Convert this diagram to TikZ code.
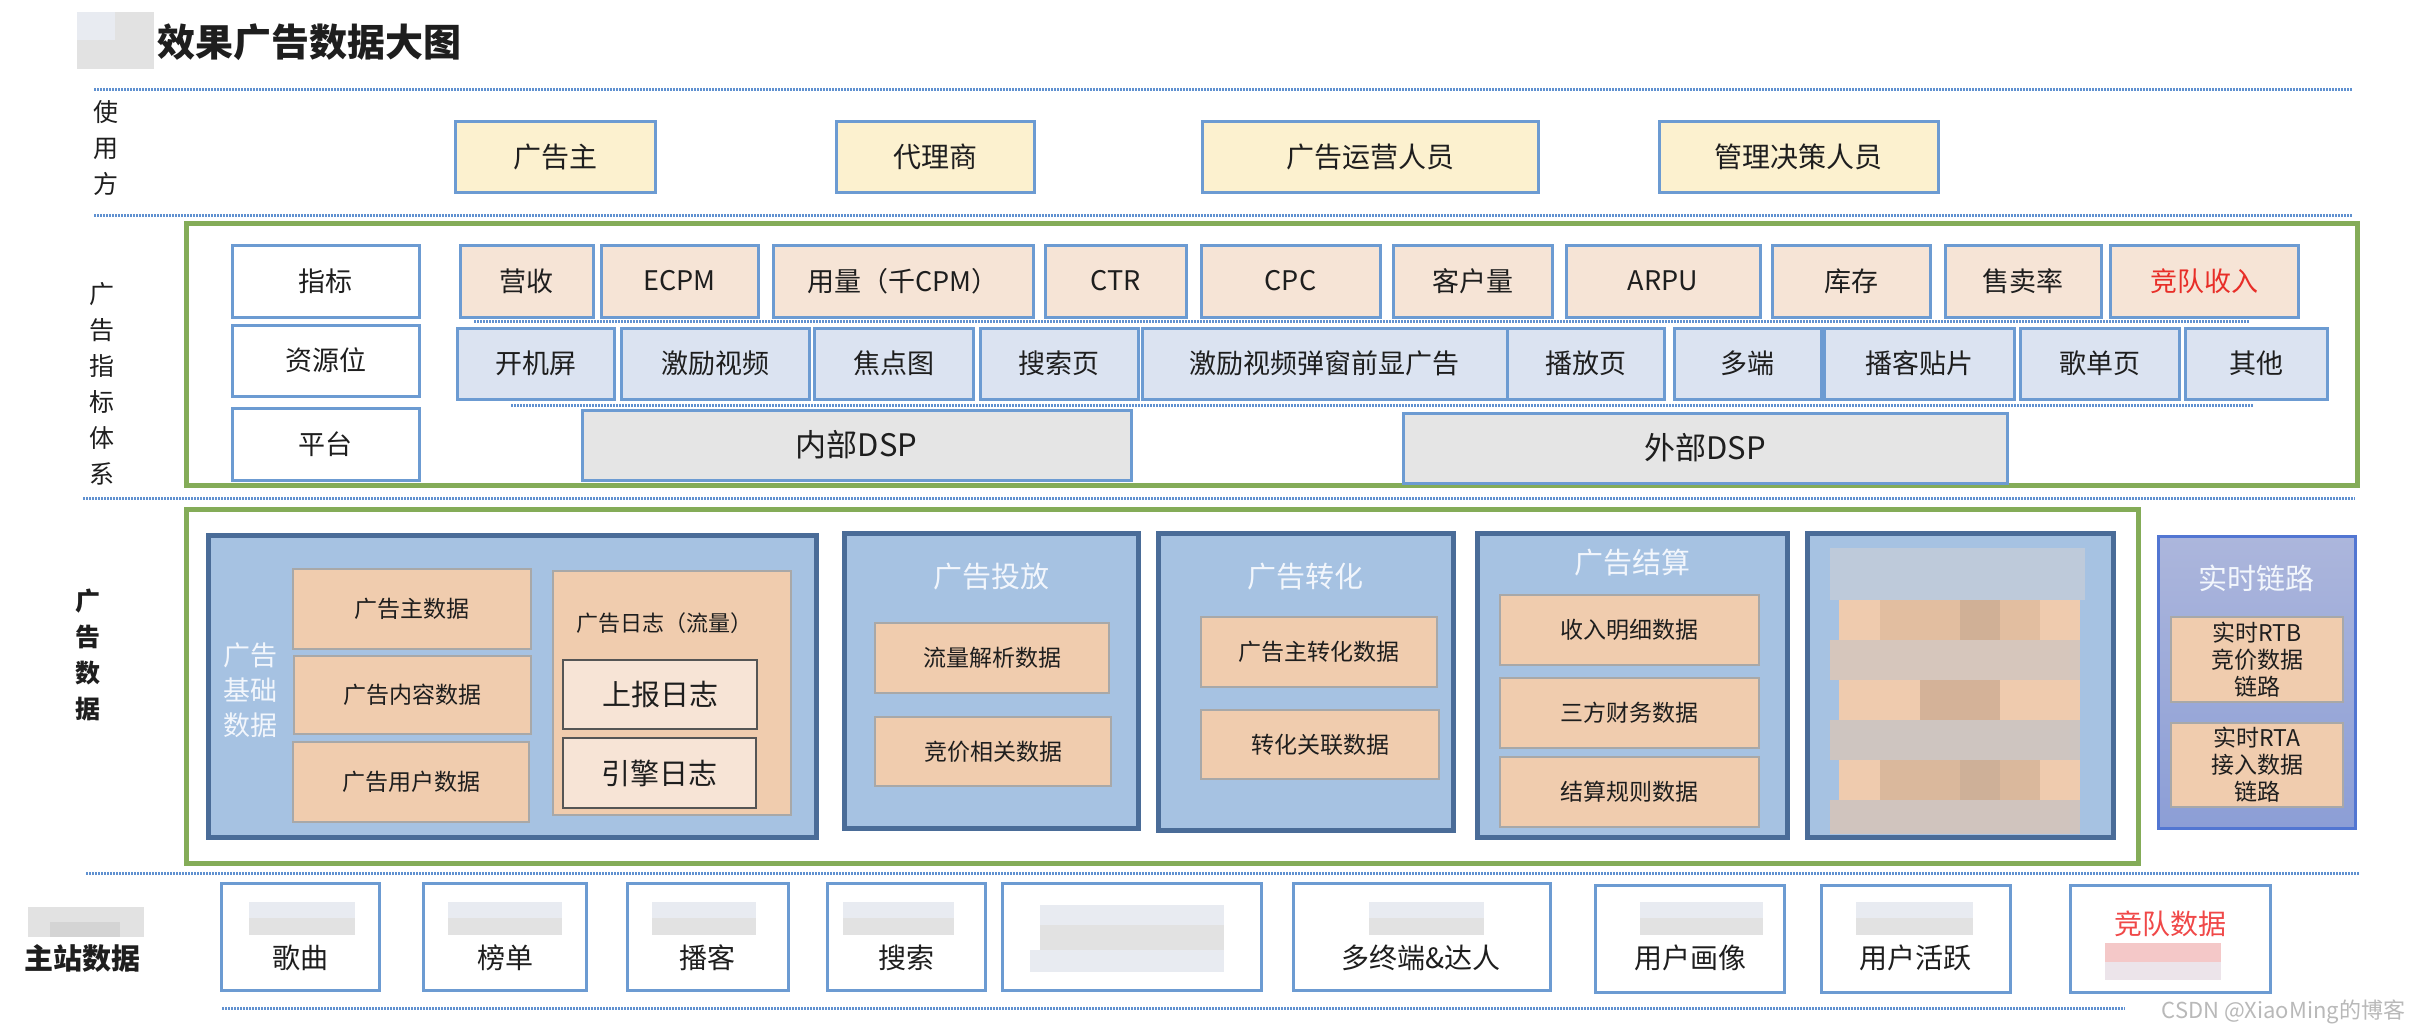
\documentclass[tikz,border=0pt]{standalone}
\usepackage{fontspec}
\setmainfont{Noto Sans CJK SC}
\definecolor{bblue}{RGB}{108,155,210}
\definecolor{grnC}{RGB}{132,172,88}
\definecolor{dotC}{RGB}{96,145,208}
\definecolor{userF}{RGB}{252,241,207}
\definecolor{metF}{RGB}{246,228,214}
\definecolor{resF}{RGB}{219,227,241}
\definecolor{platF}{RGB}{229,229,229}
\definecolor{secF}{RGB}{166,194,226}
\definecolor{secB}{RGB}{74,108,152}
\definecolor{datF}{RGB}{240,204,174}
\definecolor{datB}{RGB}{168,168,168}
\definecolor{logF}{RGB}{247,228,214}
\definecolor{logB}{RGB}{85,85,85}
\definecolor{rtT}{RGB}{172,182,220}
\definecolor{rtBt}{RGB}{140,158,214}
\definecolor{rtB}{RGB}{82,118,210}
\definecolor{redT}{RGB}{232,46,40}
\definecolor{redL}{RGB}{240,72,72}
\definecolor{txt}{RGB}{30,30,30}
\definecolor{wtT}{RGB}{242,246,252}
\definecolor{blurA}{RGB}{226,226,226}
\definecolor{blurB}{RGB}{232,235,241}
\definecolor{blurC}{RGB}{212,212,212}
\newcommand\mkbox[7]{\node[#2, minimum width={#5-#3}, minimum height={#6-#4}] (#1) at ({(#3+#5)/2},{(#4+#6)/2}) {#7};}
\newcommand\fz[2]{\fontsize{#1}{#2}\selectfont}
\begin{document}
\begin{tikzpicture}[x=1pt,y=-1pt,
  every node/.style={inner sep=0pt, outer sep=0pt, text=txt},
  bxs/.style={draw=bblue, line width=3pt, rectangle},
  user/.style={bxs, fill=userF, font=\fz{28}{32}},
  lab/.style={bxs, fill=white, font=\fz{27}{32}},
  met/.style={bxs, fill=metF, font=\fz{27}{32}},
  res/.style={bxs, fill=resF, font=\fz{27}{32}},
  plat/.style={bxs, fill=platF, font=\fz{31}{34}},
  sect/.style={draw=secB, line width=5pt, fill=secF},
  dat/.style={draw=datB, line width=2.5pt, fill=datF, font=\fz{23}{27}},
  logb/.style={draw=logB, line width=2.5pt, fill=logF, font=\fz{29}{32}},
  grn/.style={draw=grnC, line width=5pt},
  sepl/.style={draw=dotC, line width=3pt, dash pattern=on 1.5pt off 1.5pt},
  sectitle/.style={text=wtT, font=\fz{29}{32}},
  side/.style={font=\fz{25}{36}, align=center},
  bot/.style={bxs, fill=white},
  bottxt/.style={font=\fz{28}{32}},
  rt/.style={draw=datB, line width=2.5pt, fill=datF, font=\fz{23}{27}, align=center}
]
\useasboundingbox (0,0) rectangle (2418,1034);
\fill[white] (0,0) rectangle (2418,1034);

% title
\fill[blurA] (77,12) rectangle (154,69);
\fill[blurB] (77,12) rectangle (115,40);
\node[font=\fz{38}{40}\bfseries, anchor=west] (title) at (157,42) {效果广告数据大图};

% dotted separators
\draw[sepl] (94,89) -- (2353,89);
\draw[sepl] (94,215) -- (2353,215);
\draw[sepl] (83,498) -- (2355,498);
\draw[sepl] (86,873) -- (2360,873);
\draw[sepl] (222,1008) -- (2125,1008);

% side labels
\node[side] (lu) at (106,148) {使\\用\\方};
\node[side] (lm) at (102,384) {广\\告\\指\\标\\体\\系};
\node[side, font=\fz{25}{36}\bfseries] (ld) at (88,655) {广\\告\\数\\据};
\fill[blurA] (28,907) rectangle (144,937);
\fill[blurC] (50,922) rectangle (120,937);
\node[font=\fz{29}{32}\bfseries] (lz) at (82,958) {主站数据};

% users
\mkbox{u1}{user}{455}{121}{655}{192}{广告主}
\mkbox{u2}{user}{836}{121}{1034}{192}{代理商}
\mkbox{u3}{user}{1202}{121}{1538}{192}{广告运营人员}
\mkbox{u4}{user}{1659}{121}{1938}{192}{管理决策人员}

% metrics system
\node[grn, minimum width=2171, minimum height=262] (g1) at ({(186+2357)/2},{(223+485)/2}) {};
\mkbox{k1}{lab}{232}{245}{419}{317}{指标}
\mkbox{k2}{lab}{232}{325}{419}{396}{资源位}
\mkbox{k3}{lab}{232}{408}{419}{480}{平台}
\draw[sepl] (474,321) -- (2250,321);
\draw[sepl] (511,405) -- (2254,405);
\mkbox{m1}{met}{460}{245}{593}{317}{营收}
\mkbox{m2}{met}{601}{245}{758}{317}{ECPM}
\mkbox{m3}{met}{773}{245}{1033}{317}{用量（千CPM）}
\mkbox{m4}{met}{1045}{245}{1186}{317}{CTR}
\mkbox{m5}{met}{1201}{245}{1380}{317}{CPC}
\mkbox{m6}{met}{1393}{245}{1552}{317}{客户量}
\mkbox{m7}{met}{1566}{245}{1760}{317}{ARPU}
\mkbox{m8}{met}{1772}{245}{1930}{317}{库存}
\mkbox{m9}{met}{1945}{245}{2101}{317}{售卖率}
\mkbox{m10}{met, text=redT}{2110}{245}{2298}{317}{竞队收入}
\mkbox{r1}{res}{457}{328}{614}{399}{开机屏}
\mkbox{r2}{res}{621}{328}{809}{399}{激励视频}
\mkbox{r3}{res}{814}{328}{973}{399}{焦点图}
\mkbox{r4}{res}{980}{328}{1138}{399}{搜索页}
\mkbox{r5}{res}{1142}{328}{1507}{399}{激励视频弹窗前显广告}
\mkbox{r6}{res}{1507}{328}{1664}{399}{播放页}
\mkbox{r7}{res}{1674}{328}{1821}{399}{多端}
\mkbox{r8}{res}{1824}{328}{2014}{399}{播客贴片}
\mkbox{r9}{res}{2020}{328}{2179}{399}{歌单页}
\mkbox{r10}{res}{2185}{328}{2327}{399}{其他}
\mkbox{p1}{plat}{582}{410}{1131}{480}{内部DSP}
\mkbox{p2}{plat}{1403}{413}{2007}{483}{外部DSP}

% ad data
\node[grn, minimum width=1952, minimum height=354] (g2) at ({(186+2138)/2},{(509+863)/2}) {};
\mkbox{s1}{sect}{208}{535}{816}{837}{}
\node[sectitle, font=\fz{27}{35}, align=center] (s1t) at (250,690) {广告\\基础\\数据};
\mkbox{d1}{dat}{293}{569}{531}{649}{广告主数据}
\mkbox{d2}{dat}{294}{656}{531}{734}{广告内容数据}
\mkbox{d3}{dat}{293}{742}{529}{822}{广告用户数据}
\mkbox{d4}{dat}{553}{571}{791}{815}{}
\node[font=\fz{22}{26}] (d4t) at (664,623) {广告日志（流量）};
\mkbox{l1}{logb}{563}{660}{757}{729}{上报日志}
\mkbox{l2}{logb}{563}{738}{756}{808}{引擎日志}

\mkbox{s2}{sect}{844}{533}{1138}{828}{}
\node[sectitle] (s2t) at (991,577) {广告投放};
\mkbox{d5}{dat}{875}{623}{1109}{693}{流量解析数据}
\mkbox{d6}{dat}{875}{717}{1111}{786}{竞价相关数据}

\mkbox{s3}{sect}{1158}{533}{1453}{830}{}
\node[sectitle] (s3t) at (1305,577) {广告转化};
\mkbox{d7}{dat}{1201}{617}{1437}{687}{广告主转化数据}
\mkbox{d8}{dat}{1201}{710}{1439}{779}{转化关联数据}

\mkbox{s4}{sect}{1477}{533}{1787}{837}{}
\node[sectitle] (s4t) at (1632,563) {广告结算};
\mkbox{d9}{dat}{1500}{595}{1759}{665}{收入明细数据}
\mkbox{d10}{dat}{1500}{678}{1759}{748}{三方财务数据}
\mkbox{d11}{dat}{1500}{757}{1759}{827}{结算规则数据}

\mkbox{s5}{sect}{1807}{533}{2113}{837}{}
% redacted content
\fill[fill={rgb,255:red,190;green,202;blue,218}] (1830,548) rectangle (2085,600);
\fill[fill={rgb,255:red,239;green,203;blue,174}] (1839,600) rectangle (2080,640);
\fill[fill={rgb,255:red,226;green,190;blue,160}] (1880,600) rectangle (2040,640);
\fill[fill={rgb,255:red,208;green,176;blue,150}] (1960,600) rectangle (2000,640);
\fill[fill={rgb,255:red,214;green,198;blue,188}] (1830,640) rectangle (2080,680);
\fill[fill={rgb,255:red,239;green,203;blue,174}] (1839,680) rectangle (2080,720);
\fill[fill={rgb,255:red,212;green,178;blue,152}] (1920,680) rectangle (2000,720);
\fill[fill={rgb,255:red,206;green,197;blue,192}] (1830,720) rectangle (2080,760);
\fill[fill={rgb,255:red,239;green,203;blue,174}] (1839,760) rectangle (2080,800);
\fill[fill={rgb,255:red,218;green,184;blue,156}] (1880,760) rectangle (2040,800);
\fill[fill={rgb,255:red,206;green,176;blue,152}] (1960,760) rectangle (2000,800);
\fill[fill={rgb,255:red,208;green,196;blue,190}] (1830,800) rectangle (2080,834);

\node[draw=rtB, line width=3pt, top color=rtT, bottom color=rtBt, minimum width=197, minimum height=292] (s6) at ({(2158+2355)/2},{(536+828)/2}) {};
\node[sectitle] (s6t) at (2256,578) {实时链路};
\mkbox{t1}{rt}{2171}{617}{2343}{702}{实时RTB\\竞价数据\\链路}
\mkbox{t2}{rt}{2171}{723}{2343}{807}{实时RTA\\接入数据\\链路}

% main site data
\mkbox{b1}{bot}{221}{883}{379}{990}{}
\mkbox{b2}{bot}{423}{883}{586}{990}{}
\mkbox{b3}{bot}{627}{883}{788}{990}{}
\mkbox{b4}{bot}{827}{883}{985}{990}{}
\mkbox{b5}{bot}{1002}{883}{1261}{990}{}
\mkbox{b6}{bot}{1293}{883}{1550}{990}{}
\mkbox{b7}{bot}{1595}{885}{1784}{992}{}
\mkbox{b8}{bot}{1821}{885}{2010}{992}{}
\mkbox{b9}{bot}{2070}{885}{2270}{992}{}
% redaction patches
\foreach \xa/\xb in {249/355, 448/562, 652/756, 843/954, 1369/1484, 1640/1763, 1856/1973}{
  \fill[blurB] (\xa,902) rectangle (\xb,918);
  \fill[blurA] (\xa,918) rectangle (\xb,935);
}
\fill[blurB] (1040,905) rectangle (1224,925);
\fill[blurA] (1040,925) rectangle (1224,950);
\fill[blurB] (1030,950) rectangle (1224,972);
\fill[fill={rgb,255:red,244;green,200;blue,200}] (2105,943) rectangle (2221,962);
\fill[fill={rgb,255:red,236;green,228;blue,234}] (2105,962) rectangle (2221,980);
\node[bottxt] (bt1) at (300,958) {歌曲};
\node[bottxt] (bt2) at (505,958) {榜单};
\node[bottxt] (bt3) at (707,958) {播客};
\node[bottxt] (bt4) at (906,958) {搜索};
\node[bottxt] (bt6) at (1421,958) {多终端\&达人};
\node[bottxt] (bt7) at (1690,958) {用户画像};
\node[bottxt] (bt8) at (1915,958) {用户活跃};
\node[bottxt, text=redL] (bt9) at (2170,924) {竞队数据};

\node[font=\fz{22}{24}, text={rgb,255:red,185;green,185;blue,185}, anchor=east] (wm) at (2405,1012) {CSDN @XiaoMing的博客};
\end{tikzpicture}
\end{document}
